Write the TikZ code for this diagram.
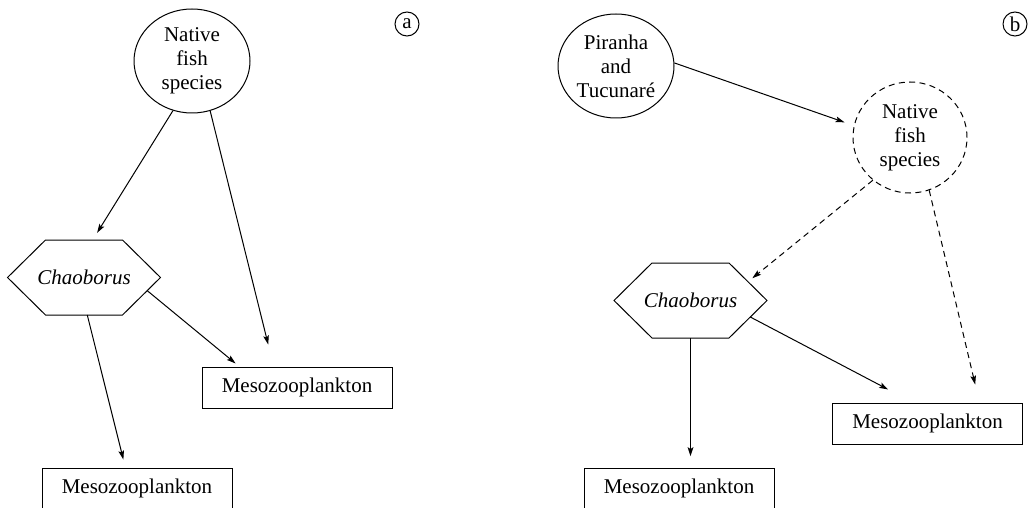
\documentclass[tikz,border=0pt]{standalone}
\usepackage{fontspec}
\setmainfont{Liberation Serif}
\usetikzlibrary{
  calc, % Koordinatenrechnung
  shapes.geometric, % Ellipse
  arrows.meta % Pfeilspitzen
}

\begin{document}
\begin{tikzpicture}[
      x=0.5pt, y=-0.5pt, % eine Einheit = ein Pixel der Vorlage
      line width=0.5pt,
      >={Stealth[length=4.5pt, width=2.8pt, inset=0.9pt]},
      every node/.style={font=\rmfamily\fontsize{10.5}{12}\selectfont},
      gone/.style={dash pattern=on 3pt off 2.2pt}, % gestrichelt
      fishnode/.style={ellipse, draw, align=center, minimum width=58pt, minimum height=52pt, inner sep=0pt},
      hexbox/.style={rectangle, minimum width=76pt, minimum height=37pt, inner sep=0pt, font=\rmfamily\itshape\fontsize{10.5}{12}\selectfont},
      planktonbox/.style={rectangle, draw, minimum width=95pt, minimum height=20.5pt, inner sep=0pt},
      panellabel/.style={circle, draw, minimum size=12pt, inner sep=0pt},
      feeds/.style={->},
      weakfeeds/.style={->, gone},
    ]

    \useasboundingbox (0, 0) rectangle (1033, 508);

    % Größen
    \def\hcut{19pt}

    % Knoten Teil (a)
    \node[fishnode] (natA) at (192, 61) {Native\\fish\\species};
    \node[hexbox] (hexA) at (84, 277.5) {Chaoborus};
    \node[planktonbox] (mesoA) at (297, 387.5) {Mesozooplankton};
    \node[planktonbox] (mesoAbot) at (137, 488.5) {Mesozooplankton};
    \node[panellabel] (labA) at (407, 24) {a};

    % Knoten Teil (b)
    \node[fishnode] (pira) at (616, 66) {Piranha\\and\\Tucunaré};
    \node[fishnode, gone, minimum width=57pt, minimum height=55.5pt] (natB) at (910, 137.5) {Native\\fish\\species};
    \node[hexbox] (hexB) at (690.5, 300.5) {Chaoborus};
    \node[planktonbox] (mesoB) at (927.5, 423.7) {Mesozooplankton};
    \node[planktonbox] (mesoBbot) at (679, 488.5) {Mesozooplankton};
    \node[panellabel] (labB) at (1015, 24) {b};

    % Sechsecke
    \foreach \h in {hexA, hexB} {
      \coordinate (\h-nw) at ($(\h.north west) + (\hcut, 0)$);
      \coordinate (\h-ne) at ($(\h.north east) + (-\hcut, 0)$);
      \coordinate (\h-se) at ($(\h.south east) + (-\hcut, 0)$);
      \coordinate (\h-sw) at ($(\h.south west) + (\hcut, 0)$);
      \draw (\h.west) -- (\h-nw) -- (\h-ne) -- (\h.east) -- (\h-se) -- (\h-sw) -- cycle;
    }

    % Pfeile Teil (a)
    \draw[feeds, shorten >=4.2pt] (natA.-111) -- (hexA.77.5);
    \draw[feeds, shorten >=11.3pt] (natA.-70.5) -- (mesoA.138.5);
    \draw[feeds, shorten >=2.4pt] ($(hexA.east)!0.35!(hexA-se)$) -- (mesoA.160.4);
    \draw[feeds, shorten >=4.1pt] (hexA.-85) -- (mesoAbot.119.7);

    % Pfeile Teil (b)
    \draw[feeds, shorten >=4.9pt] (pira.3) -- (natB.168);
    \draw[weakfeeds, shorten >=2.8pt] (natB.-131) -- ($(hexB-ne)!0.5!(hexB.east)$);
    \draw[weakfeeds, shorten >=9.3pt] (natB.-70.5) -- (mesoB.22.7);
    \draw[feeds, shorten >=14.2pt] ($(hexB.east)!0.44!(hexB-se)$) -- (mesoB.124.5);
    \draw[feeds, line width=0.9pt, shorten >=5.6pt] (hexB.south) -- (hexB.south |- mesoBbot.north);

  \end{tikzpicture}
\end{document}
